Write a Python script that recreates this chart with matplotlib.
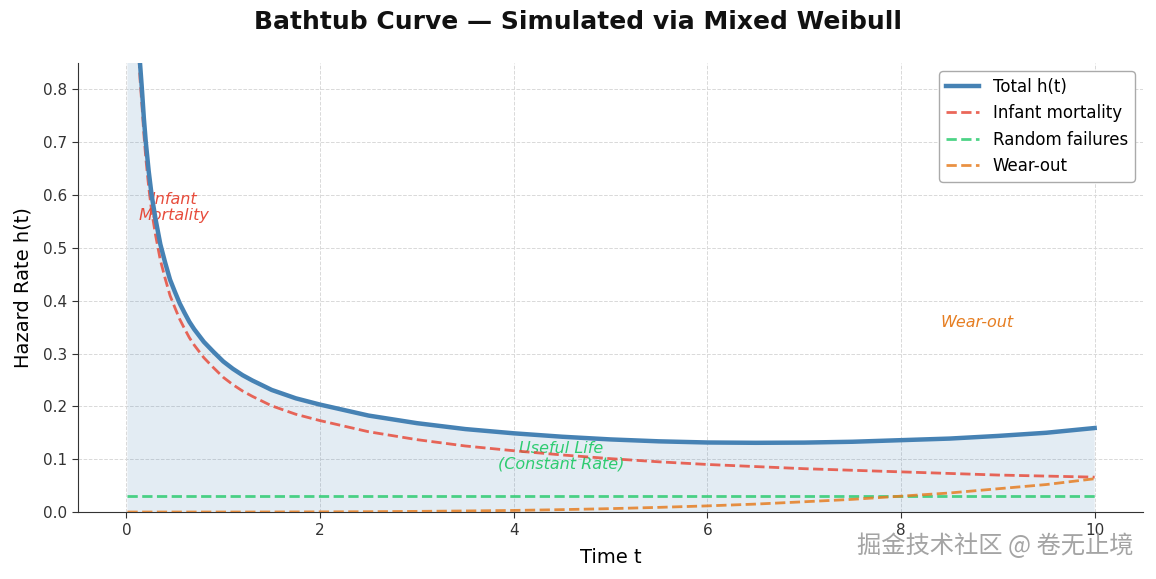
import numpy as np
import matplotlib
matplotlib.use("Agg")
import matplotlib.pyplot as plt

# ---- data ----
t_vals = [0.01, 0.10, 0.12, 0.14, 0.16, 0.18, 0.20, 0.23, 0.26, 0.30,
          0.35, 0.40, 0.45, 0.50, 0.55, 0.60, 0.65, 0.70, 0.80, 0.90,
          1.00, 1.10, 1.20, 1.30, 1.40, 1.50, 1.75, 2.00, 2.50, 3.00,
          3.50, 4.00, 4.50, 5.00, 5.50, 6.00, 6.50, 7.00, 7.50, 8.00,
          8.50, 9.00, 9.50, 10.00]
infant_vals = [4.00, 1.00, 0.90, 0.82, 0.77, 0.715, 0.67, 0.615, 0.57, 0.525,
               0.477, 0.442, 0.410, 0.387, 0.365, 0.347, 0.330, 0.316, 0.292, 0.273,
               0.255, 0.241, 0.229, 0.219, 0.210, 0.201, 0.185, 0.173, 0.152, 0.137,
               0.125, 0.116, 0.108, 0.101, 0.095, 0.090, 0.086, 0.082, 0.079, 0.076,
               0.073, 0.070, 0.068, 0.066]
random_vals = [0.03] * len(t_vals)
wear_vals = [0.0, 0.0, 0.0, 0.0, 0.0, 0.0, 0.0, 0.0, 0.0, 0.0,
             0.0, 0.0, 0.0, 0.0, 0.0, 0.0, 0.0, 0.0, 0.0, 0.0,
             0.0, 0.0, 0.0, 0.0, 0.0001, 0.0001, 0.0002, 0.0003, 0.0006, 0.0012,
             0.002, 0.003, 0.0045, 0.0064, 0.0088, 0.0116, 0.015, 0.0194, 0.024, 0.030,
             0.036, 0.044, 0.052, 0.063]

labels = ["Total h(t)", "Infant mortality", "Random failures", "Wear-out"]
title = "Bathtub Curve \u2014 Simulated via Mixed Weibull"

t = np.array(t_vals)
h_inf = np.array(infant_vals)
h_rand = np.array(random_vals)
h_wear = np.array(wear_vals)
h_total = h_inf + h_rand + h_wear

plt.rcParams['font.family'] = ['DejaVu Sans']
fig = plt.figure(figsize=(11.56, 5.79), dpi=100)
ax = fig.add_axes([0.0675, 0.1157, 0.9213, 0.7755])

ax.fill_between(t, 0, h_total, color="#4682b4", alpha=0.15, linewidth=0)
ax.plot(t, h_total, color="#4682b4", lw=3.2, label=labels[0], zorder=5)
ax.plot(t, h_inf, color="#e74c3c", lw=2.0, ls="--", alpha=0.85, label=labels[1], zorder=4)
ax.plot(t, h_rand, color="#2ecc71", lw=2.0, ls="--", alpha=0.85, label=labels[2], zorder=4)
ax.plot(t, h_wear, color="#e67e22", lw=2.0, ls="--", alpha=0.85, label=labels[3], zorder=4)

ax.text(0.49, 0.576, "Infant\nMortality", color="#e74c3c", fontsize=11.5, style="italic",
        ha="center", va="center", linespacing=1.05)
ax.text(4.49, 0.106, "Useful Life\n(Constant Rate)", color="#2ecc71", fontsize=11.5,
        style="italic", ha="center", va="center", linespacing=1.05)
ax.text(8.78, 0.358, "Wear-out", color="#e67e22", fontsize=11.5, style="italic",
        ha="center", va="center")

ax.set_xlim(-0.5, 10.5)
ax.set_ylim(0, 0.85)
ax.set_xticks([0, 2, 4, 6, 8, 10])
ax.set_yticks([0.0, 0.1, 0.2, 0.3, 0.4, 0.5, 0.6, 0.7, 0.8])
ax.tick_params(labelsize=11, labelcolor="#333333", color="#333333", length=4.5)
ax.grid(True, ls="--", color="#d9d9d9", lw=0.7)
ax.set_axisbelow(True)
for s in ["top", "right"]:
    ax.spines[s].set_visible(False)
for s in ["left", "bottom"]:
    ax.spines[s].set_color("#333333")

ax.set_xlabel("Time t", fontsize=14, labelpad=7)
ax.set_ylabel("Hazard Rate h(t)", fontsize=14, labelpad=7)
fig.text(0.5, 0.962, title, fontsize=18, fontweight="bold", ha="center", va="center",
         color="#111111")

leg = ax.legend(loc="upper right", fontsize=12, frameon=True, fancybox=True,
                edgecolor="#aaaaaa", framealpha=1.0, borderaxespad=0.5)

fig.text(0.861, 0.057, "掘金技术社区 @ 卷无止境", fontsize=17.5, color="#9a9a9a",
         ha="center", va="center", family=["Noto Sans CJK SC", "DejaVu Sans"], alpha=0.9)

fig.savefig("out.png", dpi=100)
